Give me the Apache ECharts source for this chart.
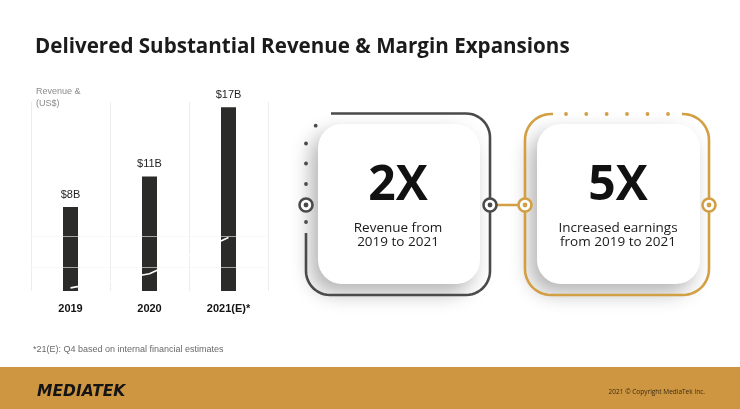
<!DOCTYPE html>
<html>
<head>
<meta charset="utf-8">
<script src="https://cdn.jsdelivr.net/npm/echarts@6/dist/echarts.min.js"></script>
<style>
  html, body { margin: 0; padding: 0; background: #fff; }
  #main { width: 740px; height: 409px; }
</style>
</head>
<body>
<div id="main"></div>
<script>
// chart data
const years = ['2019', '2020', '2021(E)*'];
const revenue = [8.0, 10.9, 17.5];
const revenueLabels = ['$8B', '$11B', '$17B'];
const marginTrend = [40.2, 41.1, 43.4];
const marginRefLevels = [41.5, 43.5];

const GOLD = '#d29f45';
const GREY = '#4a4a4a';

const chart = echarts.init(document.getElementById('main'));

// helpers for the decorative side panels
function arcPts(cx, cy, r, a0, a1) {
    const pts = [];
    for (let i = 0; i <= 12; i++) {
        const a = (a0 + (a1 - a0) * i / 12) * Math.PI / 180;
        pts.push([cx + r * Math.cos(a), cy + r * Math.sin(a)]);
    }
    return pts;
}
const border = (points, color) => ({
    type: 'polyline', z: 10, silent: true,
    shape: { points: points },
    style: { fill: 'none', stroke: color, lineWidth: 2.6, lineJoin: 'round' }
});
const dot = (cx, cy, color) => ({
    type: 'circle', z: 10, shape: { cx: cx, cy: cy, r: 1.9 }, style: { fill: color }, silent: true
});
const ring = (cx, cy, color) => ([
    { type: 'circle', z: 20, shape: { cx: cx, cy: cy, r: 6.5 }, style: { fill: '#fff', stroke: color, lineWidth: 2.6 }, silent: true },
    { type: 'circle', z: 21, shape: { cx: cx, cy: cy, r: 2.4 }, style: { fill: color }, silent: true }
]);
const txt = (x, y, text, size, weight, color, family, align) => ({
    type: 'text', z: 30, silent: true,
    style: {
        x: x, y: y, text: text, fontSize: size, fontWeight: weight || 'normal',
        fontFamily: family || 'Open Sans', fill: color || '#1a1a1a',
        align: align || 'center', verticalAlign: 'middle'
    }
});

// grey box outline (top-left corner left open for the dots)
const greyBox = [[331, 113.5]]
    .concat(arcPts(466, 137.5, 24, -90, 0))
    .concat(arcPts(466, 271, 24, 0, 90))
    .concat(arcPts(330, 271, 24, 90, 180))
    .concat([[306, 233]]);
// gold box outline (top edge interrupted by dots)
const goldBox = [[553, 114]]
    .concat(arcPts(551, 140, 26, 270, 180))
    .concat(arcPts(551, 269, 26, 180, 90))
    .concat(arcPts(683, 269, 26, 90, 0))
    .concat(arcPts(683, 140, 26, 0, -90))
    .concat([[682, 114]]);

const graphics = [
    txt(35, 47, 'Delivered Substantial Revenue & Margin Expansions', 20.6, 'bold', '#1b1b1b', 'Open Sans', 'left'),
    txt(36, 92, 'Revenue &', 9, 'normal', '#8a8a8a', 'Liberation Sans', 'left'),
    txt(36, 104, '(US$)', 9, 'normal', '#8a8a8a', 'Liberation Sans', 'left'),
    txt(33, 350, '*21(E): Q4 based on internal financial estimates', 9, 'normal', '#6a6a6a', 'Liberation Sans', 'left'),
    // footer band
    { type: 'rect', z: 1, silent: true, shape: { x: 0, y: 367, width: 740, height: 42 }, style: { fill: '#cf9642' } },
    {
        type: 'text', z: 30, silent: true,
        style: { x: 37, y: 392, text: 'MEDIATEK', fontSize: 15.5, fontWeight: 'bold', fontStyle: 'italic',
                 fontFamily: 'DejaVu Sans', fill: '#141414', align: 'left', verticalAlign: 'middle' }
    },
    txt(705, 392, '2021 \u00a9 Copyright MediaTek Inc.', 6.5, 'normal', '#3a2a10', 'Open Sans', 'right'),

    // left card (grey)
    { type: 'rect', z: 5, silent: true, shape: { x: 318, y: 124, width: 162, height: 160, r: 24 },
      style: { fill: '#fff', shadowBlur: 20, shadowOffsetX: -7, shadowOffsetY: 9, shadowColor: 'rgba(0,0,0,0.3)' } },
    border(greyBox, GREY),
    dot(315.7, 125.7, GREY), dot(306, 143.5, GREY), dot(306, 163.5, GREY), dot(306, 184, GREY), dot(306, 222, GREY),
    ...ring(306, 205, GREY),
    ...ring(490, 205, GREY),
    txt(398, 186, '2X', 48, 'bold', '#111'),
    txt(398, 228, 'Revenue from', 13.5, 'normal', '#1a1a1a'),
    txt(398, 242, '2019 to 2021', 13.5, 'normal', '#1a1a1a'),

    // connector
    { type: 'line', z: 9, silent: true, shape: { x1: 490, y1: 205, x2: 525, y2: 205 }, style: { stroke: GOLD, lineWidth: 2.6 } },

    // right card (gold)
    { type: 'rect', z: 5, silent: true, shape: { x: 537, y: 124, width: 163, height: 160, r: 24 },
      style: { fill: '#fff', shadowBlur: 20, shadowOffsetX: -7, shadowOffsetY: 9, shadowColor: 'rgba(0,0,0,0.3)' } },
    border(goldBox, GOLD),
    dot(566, 114, GOLD), dot(586.3, 114, GOLD), dot(606.7, 114, GOLD), dot(627, 114, GOLD), dot(647.5, 114, GOLD), dot(668, 114, GOLD),
    ...ring(525, 205, GOLD),
    ...ring(709, 205, GOLD),
    txt(618, 186, '5X', 48, 'bold', '#111'),
    txt(618, 228, 'Increased earnings', 13.5, 'normal', '#1a1a1a'),
    txt(618, 242, 'from 2019 to 2021', 13.5, 'normal', '#1a1a1a')
];

const option = {
    backgroundColor: '#fff',
    animation: false,
    grid: { left: 31, right: 472, top: 102, bottom: 118 },
    xAxis: {
        type: 'category',
        data: years,
        axisLine: { show: false },
        axisTick: { show: false },
        axisLabel: { color: '#141414', fontSize: 11, fontWeight: 'bold', fontFamily: 'Liberation Sans', margin: 12 },
        splitLine: { show: true, lineStyle: { color: '#ededed', width: 1 } }
    },
    yAxis: [
        { type: 'value', min: 0, max: 18, show: false },
        { type: 'value', min: 40, max: 52, show: false }
    ],
    series: [
        {
            type: 'bar',
            data: revenue,
            barWidth: 15,
            itemStyle: { color: '#2b2b29' },
            label: {
                show: true, position: 'top', distance: 7,
                fontSize: 11, color: '#1e1e1e', fontFamily: 'Liberation Sans',
                formatter: (p) => revenueLabels[p.dataIndex]
            }
        },
        {
            type: 'line',
            yAxisIndex: 1,
            data: marginTrend,
            z: 3,
            symbol: 'none',
            lineStyle: { color: '#ffffff', width: 1.6 },
            markLine: {
                silent: true,
                symbol: 'none',
                label: { show: false },
                lineStyle: { color: 'rgba(245,245,245,0.6)', width: 1, type: 'solid' },
                data: marginRefLevels.map(v => ({ yAxis: v }))
            }
        }
    ],
    graphic: graphics
};

chart.setOption(option);
</script>
</body>
</html>
